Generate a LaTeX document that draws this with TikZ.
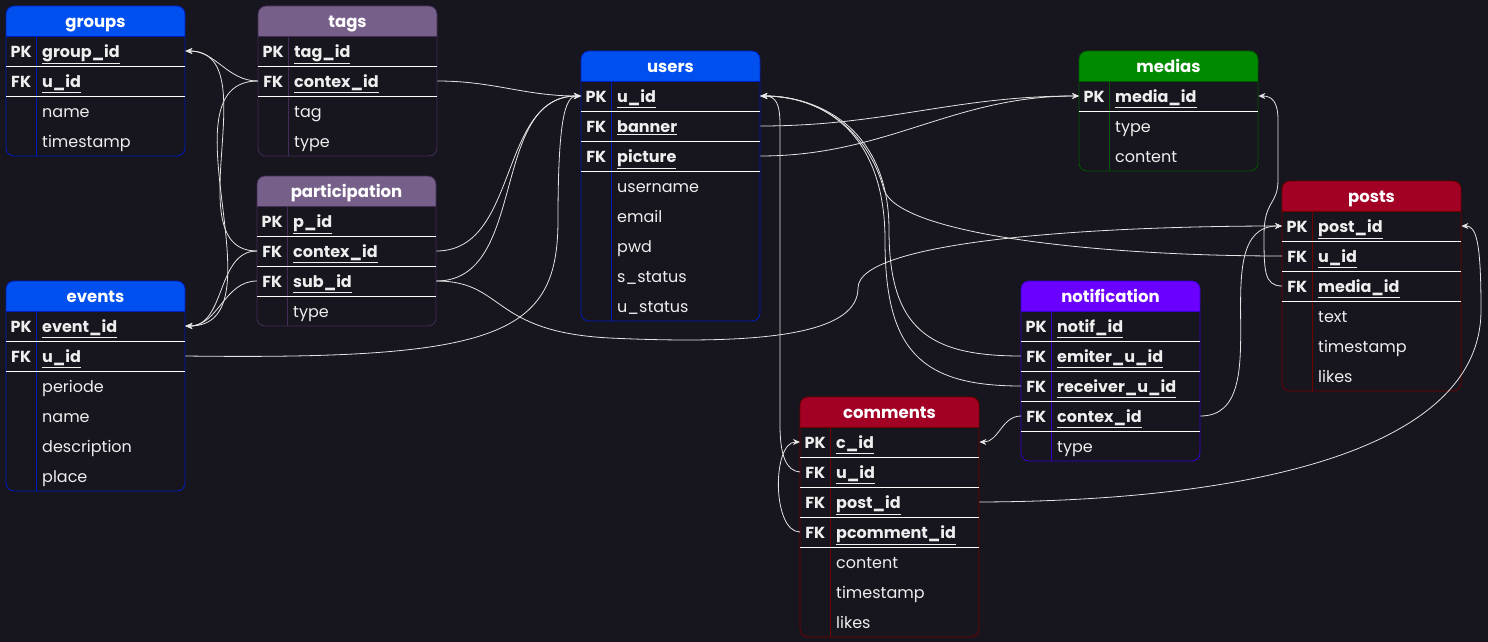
\documentclass[tikz,border=0pt]{standalone}
\usepackage{fontspec}
\setmainfont{Poppins}
\usepackage{tikz}
\usetikzlibrary{arrows.meta}
\definecolor{bg}{HTML}{17151E}
\definecolor{fg}{HTML}{EEEEEE}
\definecolor{wire}{HTML}{E4E4E4}
\definecolor{blueH}{HTML}{0050EF}
\definecolor{blueB}{HTML}{001DBC}
\definecolor{mauveH}{HTML}{76608A}
\definecolor{mauveB}{HTML}{432D57}
\definecolor{greenH}{HTML}{008A00}
\definecolor{greenB}{HTML}{005700}
\definecolor{redH}{HTML}{A20025}
\definecolor{redB}{HTML}{6F0000}
\definecolor{violetH}{HTML}{6A00FF}
\definecolor{violetB}{HTML}{3700CC}
\tikzset{
  tabframe/.style={line width=0.8pt, rounded corners=8pt},
  keyline/.style={draw=white, line width=0.8pt},
  tabtitle/.style={text=white, inner sep=0pt, text height=13pt, text depth=0pt,
    font=\bfseries\fontsize{16.5}{19}\selectfont},
  fieldrow/.style={anchor=west, inner sep=0pt, minimum height=30pt, text height=15pt,
    text depth=2pt, text=fg, font=\fontsize{16}{19}\selectfont},
  wire/.style={draw=wire, line width=0.8pt, -{Stealth[length=7pt,width=6pt]}},
}
% #1 name, #2 x, #3 y, #4 colour, #5 key rows, #6 all rows, #7 keys, #8 plain fields
\newcommand{\erTable}[8]{%
  \begin{scope}[shift={(#2,#3)}]
    \fill[#4H, rounded corners=8pt] (0,0) rectangle (179,30);
    \fill[#4H] (0,15) rectangle (179,30);
    \draw[tabframe, draw=#4B] (0,0) rectangle (179,30+30*#6);
    \draw[draw=#4B] (0,30) -- (179,30) (30,30) -- (30,30+30*#6);
    \node[tabtitle] (#1) at (89.5,15) {#1};
    \foreach \k/\n/\f [count=\i] in {#7} {
      \node[fieldrow] (#1-\n) at (0,15+30*\i)
        {\makebox[179pt][l]{\makebox[30pt]{\bfseries\k}\hspace{6pt}\underline{\bfseries\f}}};
      \draw[keyline] (0,30+30*\i) -- (179,30+30*\i);
    }
    \foreach \f [count=\i] in {#8} {
      \node[fieldrow] (#1-p\i) at (0,15+30*\i+30*#5)
        {\makebox[179pt][l]{\hspace{36pt}\f}};
    }
  \end{scope}
}

\begin{document}
\begin{tikzpicture}[x=1pt, y=-1pt]
  \useasboundingbox[fill=bg] (0,0) rectangle (1488,642);

  \erTable{groups}{6}{6}{blue}{2}{4}{PK/gid/group\_id, FK/uid/u\_id}{name, timestamp}
  \erTable{tags}{258}{6}{mauve}{2}{4}{PK/tid/tag\_id, FK/ctx/contex\_id}{tag, type}
  \erTable{participation}{257}{176}{mauve}{3}{4}{PK/pid/p\_id, FK/ctx/contex\_id, FK/sub/sub\_id}{type}
  \erTable{events}{6}{281}{blue}{2}{6}{PK/eid/event\_id, FK/uid/u\_id}{periode, name, description, place}
  \erTable{users}{581}{51}{blue}{3}{8}{PK/uid/u\_id, FK/banner/banner, FK/pic/picture}{username, email, pwd, s\_status, u\_status}
  \erTable{medias}{1079}{51}{green}{1}{3}{PK/mid/media\_id}{type, content}
  \erTable{posts}{1282}{181}{red}{3}{6}{PK/pid/post\_id, FK/uid/u\_id, FK/mid/media\_id}{text, timestamp, likes}
  \erTable{notification}{1021}{281}{violet}{4}{5}{PK/nid/notif\_id, FK/emit/emiter\_u\_id, FK/recv/receiver\_u\_id, FK/ctx/contex\_id}{type}
  \erTable{comments}{800}{397}{red}{4}{7}{PK/cid/c\_id, FK/uid/u\_id, FK/pid/post\_id, FK/pcid/pcomment\_id}{content, timestamp, likes}

  % contex / sub -> groups, events
  \draw[wire] (tags-ctx.west) to[out=180,in=0] (groups-gid.east);
  \draw[wire] (tags-ctx.west) to[out=180,in=0] (events-eid.east);
  \draw[wire] (participation-ctx.west) to[out=180,in=0] (groups-gid.east);
  \draw[wire] (participation-ctx.west) to[out=180,in=0] (events-eid.east);
  \draw[wire] (participation-sub.west) to[out=180,in=0] (events-eid.east);

  % -> users u_id (left side)
  \draw[wire] (tags-ctx.east) to[out=0,in=180] (users-uid.west);
  \draw[wire] (participation-ctx.east) to[out=0,in=180] (users-uid.west);
  \draw[wire] (participation-sub.east) to[out=0,in=180] (users-uid.west);
  \draw[wire] (events-uid.east) .. controls (500,360) and (558,335) .. (558,220)
    .. controls (558,120) and (565,96) .. (users-uid.west);

  % -> users u_id (right side)
  \draw[wire] (posts-uid.west) .. controls (1100,256) and (900,235) .. (884,190)
    .. controls (868,130) and (820,96) .. (users-uid.east);
  \draw[wire] (notification-emit.west) .. controls (930,356) and (889,330) .. (889,230)
    .. controls (889,130) and (820,96) .. (users-uid.east);
  \draw[wire] (notification-recv.west) .. controls (920,386) and (885,350) .. (885,240)
    .. controls (885,130) and (820,96) .. (users-uid.east);
  \draw[wire] (comments-uid.west) .. controls (786,471) and (780,455) .. (780,425)
    -- (780,125) .. controls (780,104) and (776,96) .. (users-uid.east);

  % -> medias
  \draw[wire] (users-banner.east) to[out=0,in=180] (medias-mid.west);
  \draw[wire] (users-pic.east) to[out=0,in=180] (medias-mid.west);
  \draw[wire] (posts-mid.west) .. controls (1264,286) and (1264,270) .. (1264,235)
    .. controls (1264,200) and (1278,205) .. (1278,180) -- (1278,120)
    .. controls (1278,102) and (1272,96) .. (medias-mid.east);

  % -> posts
  \draw[wire] (participation-sub.east) .. controls (505,281) and (490,332) .. (610,338)
    .. controls (780,346) and (858,330) .. (858,288)
    .. controls (858,240) and (1100,226) .. (posts-pid.west);
  \draw[wire] (notification-ctx.east) to[out=0,in=180] (posts-pid.west);
  \draw[wire] (comments-pid.east) .. controls (1250,501) and (1481,450) .. (1481,310)
    .. controls (1481,240) and (1476,226) .. (posts-pid.east);

  % -> comments
  \draw[wire] (notification-ctx.west) to[out=180,in=0] (comments-cid.east);
  \draw[wire] (comments-pcid.west) to[out=180,in=180,looseness=0.8] (comments-cid.west);
\end{tikzpicture}
\end{document}
